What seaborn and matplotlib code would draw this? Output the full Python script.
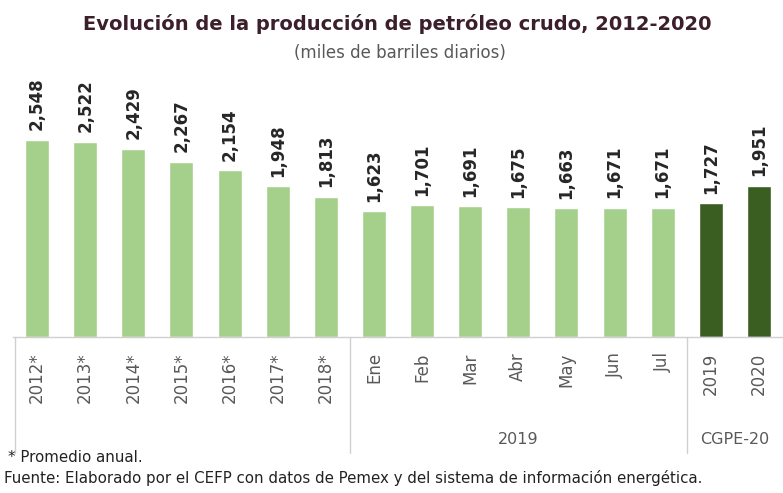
import matplotlib
matplotlib.use("Agg")
import matplotlib.pyplot as plt
import matplotlib.transforms as mtransforms
import seaborn as sns
import pandas as pd

# ---- data ----
categories = ["2012*", "2013*", "2014*", "2015*", "2016*", "2017*", "2018*",
              "Ene", "Feb", "Mar", "Abr", "May", "Jun", "Jul", "2019", "2020"]
values = [2548, 2522, 2429, 2267, 2154, 1948, 1813,
          1623, 1701, 1691, 1675, 1663, 1671, 1671, 1727, 1951]
kind = ["Observado"] * 14 + ["CGPE-20"] * 2
group_labels = ["", "2019", "CGPE-20"]
group_spans = [(0, 6), (7, 13), (14, 15)]

title = "Evolución de la producción de petróleo crudo, 2012-2020"
subtitle = "(miles de barriles diarios)"
note1 = "* Promedio anual."
note2 = "Fuente: Elaborado por el CEFP con datos de Pemex y del sistema de información energética."

df = pd.DataFrame({"cat": categories, "val": values, "kind": kind})

sns.set_style("white")
plt.rcParams["font.family"] = ["DejaVu Sans"]

fig = plt.figure(figsize=(7.83, 4.93), dpi=100)
W, H = 783, 493
ax_left, ax_right = 13, 783
ax_bottom, ax_top = 337, 105
ax = fig.add_axes([ax_left / W, 1 - ax_bottom / H, (ax_right - ax_left) / W, (ax_bottom - ax_top) / H])

palette = {"Observado": "#A5D08B", "CGPE-20": "#3A5E22"}
sns.barplot(data=df, x="cat", y="val", hue="kind", palette=palette, order=categories,
            dodge=False, width=0.5, legend=False, ax=ax, saturation=1)

ax.set_xlim(-0.5, len(categories) - 0.5)
ax.set_ylim(0, 3000)
ax.set_xlabel("")
ax.set_ylabel("")
ax.set_yticks([])
for s in ["top", "right", "left"]:
    ax.spines[s].set_visible(False)
ax.spines["bottom"].set_color("#d0d0d0")
ax.spines["bottom"].set_linewidth(1.0)

ax.set_xticks(range(len(categories)))
ax.set_xticklabels(categories, rotation=90, fontsize=12, color="#595959")
ax.tick_params(axis="x", length=0, pad=11)

for cont in ax.containers:
    labs = [f"{v.get_height():,.0f}" for v in cont]
    ax.bar_label(cont, labels=labs, rotation=90, padding=7, fontsize=12,
                 fontweight="bold", color="#262626")

# group separators and labels
trans = mtransforms.blended_transform_factory(ax.transData, ax.transAxes)
ext = -116 / (ax_bottom - ax_top)
for xs in [-0.45, 6.5, 13.5]:
    ax.plot([xs, xs], [0, ext], transform=trans, color="#d0d0d0", lw=1.0, clip_on=False)
for lab, (a, b) in zip(group_labels, group_spans):
    if lab:
        ax.text((a + b) / 2, -103 / (ax_bottom - ax_top), lab, transform=trans,
                ha="center", va="center", fontsize=11.5, color="#595959")

fig.text(397 / W, 1 - 24 / H, title, ha="center", va="center", fontsize=14,
         fontweight="bold", color="#3b1f2b")
fig.text(400 / W, 1 - 53 / H, subtitle, ha="center", va="center", fontsize=12,
         color="#595959")
fig.text(8 / W, 1 - 457 / H, note1, ha="left", va="center", fontsize=10.8, color="#222222")
fig.text(4 / W, 1 - 478 / H, note2, ha="left", va="center", fontsize=10.8, color="#222222")

fig.savefig("out.png", dpi=100)
